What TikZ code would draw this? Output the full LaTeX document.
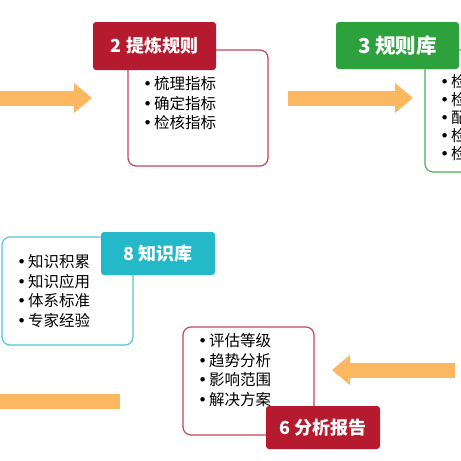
\documentclass[tikz,border=0pt]{standalone}
\usepackage{fontspec}
\setmainfont{Noto Sans CJK SC}
\newfontfamily\dotfont{DejaVu Sans}
\usetikzlibrary{arrows.meta}
\definecolor{stepred}{HTML}{B51A2E}
\definecolor{stepgreen}{HTML}{2DA23C}
\definecolor{stepcyan}{HTML}{24B9C9}
\definecolor{flowarrow}{HTML}{FBB860}
\newcommand\dotitem{\makebox[11pt][l]{\dotfont•}}
\tikzset{
  headbox/.style={fill=#1, rounded corners=3pt, text=white, inner sep=0pt,
    font=\fontsize{18}{20}\selectfont\bfseries},
  framebox/.style={draw=#1, line width=1.2pt, rounded corners=8pt, fill=white, inner sep=0pt},
  itemlist/.style={align=left, anchor=west, inner sep=0pt,
    font=\fontsize{15.5}{19.5}\selectfont},
  flow/.style={draw=flowarrow, line width=15pt, -{Triangle[length=18pt,width=29pt]}},
}

\begin{document}
\begin{tikzpicture}[x=1pt,y=-1pt]
  \useasboundingbox (0,0) rectangle (461,461);
  \fill[white] (0,0) rectangle (461,461);
  \clip (0,0) rectangle (461,461);
  % arrows
  \coordinate (in2) at (-10,98);
  \coordinate (at2) at (92,98);
  \coordinate (out2) at (288,98);
  \coordinate (at3) at (413,98);
  \coordinate (in6) at (455,370);
  \coordinate (at6) at (332,370);
  \coordinate (out6) at (120,401.5);
  \coordinate (to7) at (-10,401.5);
  \draw[flow] (in2) -- (at2);
  \draw[flow] (out2) -- (at3);
  \draw[flow] (in6) -- (at6);
  \draw[draw=flowarrow, line width=15pt] (out6) -- (to7);
  % 2
  \node[framebox=stepred!80, minimum width=140pt, minimum height=116pt] (extractbox) at (198,108) {};
  \node[headbox=stepred, minimum width=123pt, minimum height=48pt] (extracthead) at (154.5,46) {2 提炼规则};
  \node[itemlist] (extractitems) at (143,103.5) {\dotitem 梳理指标\\\dotitem 确定指标\\\dotitem 检核指标};
  % 3
  \node[framebox=stepgreen!85, minimum width=140pt, minimum height=122pt] (rulesbox) at (495,111) {};
  \node[headbox=stepgreen, minimum width=123pt, minimum height=47pt,
    font=\fontsize{20.5}{22}\selectfont\bfseries] (ruleshead) at (397.5,45.5) {3 规则库};
  \node[itemlist, font=\fontsize{15.5}{17.8}\selectfont] (rulesitems) at (440,117.5)
    {\dotitem 检查规则\\\dotitem 检验规则\\\dotitem 配置规则\\\dotitem 检核规则\\\dotitem 检测规则};
  % 8
  \node[framebox=stepcyan!80, minimum width=131pt, minimum height=108pt] (knowbox) at (67.5,291) {};
  \node[headbox=stepcyan, minimum width=114pt, minimum height=43pt] (knowhead) at (158,253.5) {8 知识库};
  \node[itemlist] (knowitems) at (17,291) {\dotitem 知识积累\\\dotitem 知识应用\\\dotitem 体系标准\\\dotitem 专家经验};
  % 6
  \node[framebox=stepred!80, minimum width=131pt, minimum height=108pt] (reportbox) at (248.5,381) {};
  \node[headbox=stepred, minimum width=114pt, minimum height=43pt] (reporthead) at (323,427.5) {6 分析报告};
  \node[itemlist] (reportitems) at (198,370) {\dotitem 评估等级\\\dotitem 趋势分析\\\dotitem 影响范围\\\dotitem 解决方案};
\end{tikzpicture}
\end{document}
